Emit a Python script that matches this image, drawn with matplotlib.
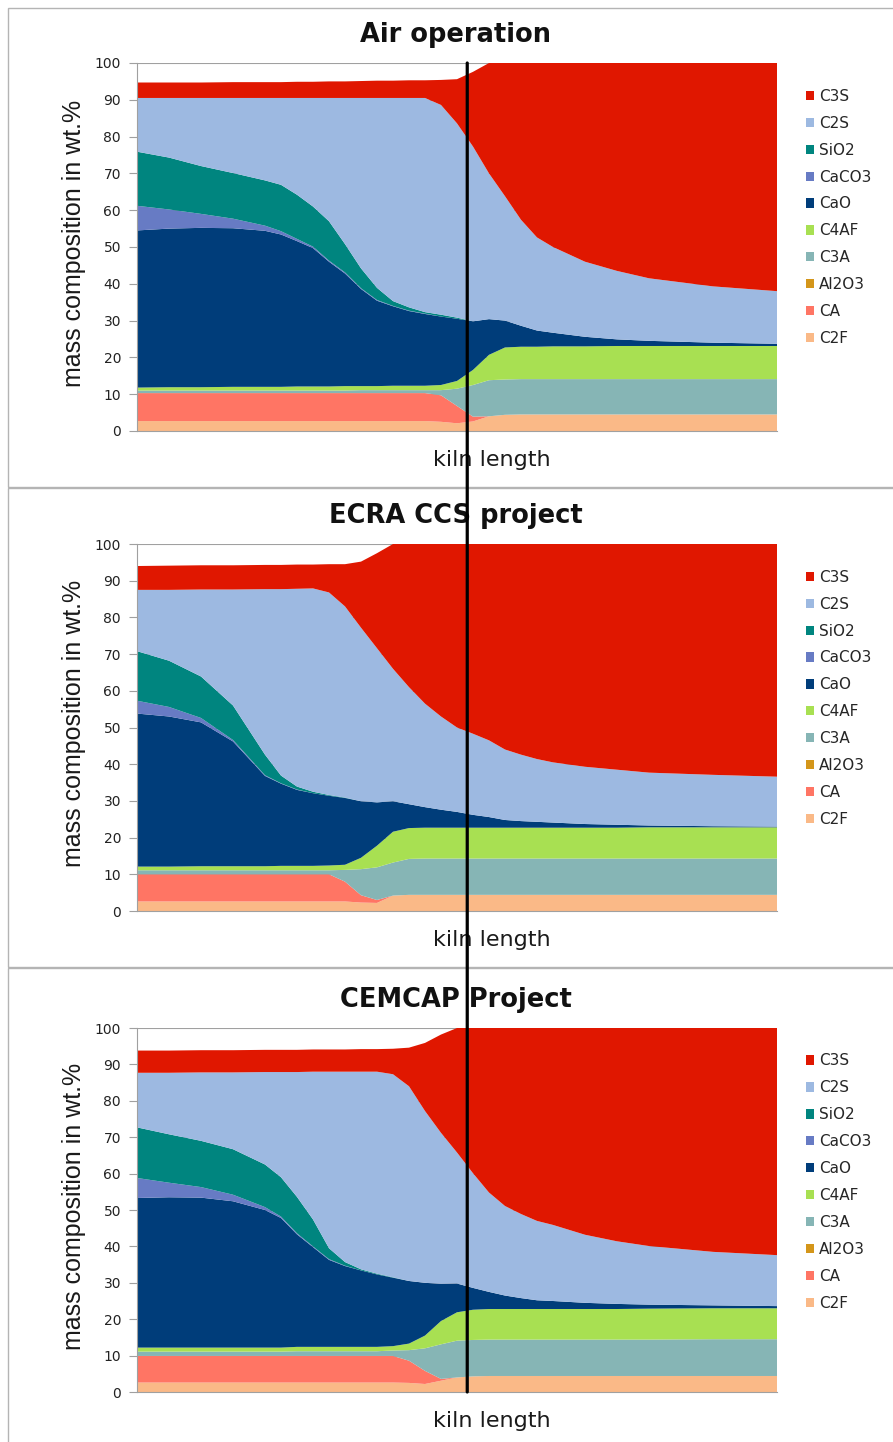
import matplotlib
matplotlib.use('Agg')
import matplotlib.pyplot as plt
from matplotlib.patches import ConnectionPatch, Rectangle

# Position along the kiln (0 = inlet, 1 = outlet)
kiln_pos = [0, 0.05, 0.1, 0.15, 0.2, 0.225, 0.25, 0.275, 0.3, 0.325, 0.35, 0.375, 0.4, 0.425,
            0.45, 0.475, 0.5, 0.525, 0.55, 0.575, 0.6, 0.625, 0.65, 0.7, 0.75, 0.8, 0.9, 1.0]

# Stacking order bottom -> top
phases = ['C2F', 'CA', 'Al2O3', 'C3A', 'C4AF', 'CaO', 'CaCO3', 'SiO2', 'C2S', 'C3S']
phase_colors = ['#FAB987', '#FF7564', '#D4961A', '#86B5B5', '#A8E052',
                '#003D7A', '#677BC4', '#00857F', '#9DB9E1', '#E01700']

no_al2o3 = [0, 0, 0, 0, 0, 0, 0, 0, 0, 0, 0, 0, 0, 0,
            0, 0, 0, 0, 0, 0, 0, 0, 0, 0, 0, 0, 0, 0]

# --- Air operation (wt.%) ---
air_c2f = [2.7, 2.7, 2.7, 2.7, 2.7, 2.7, 2.7, 2.7, 2.7, 2.7, 2.7, 2.7, 2.7, 2.7,
           2.7, 2.5, 2.1, 2.6, 4.0, 4.4, 4.5, 4.5, 4.5, 4.5, 4.5, 4.5, 4.5, 4.5]
air_ca = [7.6, 7.6, 7.6, 7.6, 7.6, 7.6, 7.6, 7.6, 7.6, 7.6, 7.6, 7.6, 7.6, 7.6,
          7.6, 7.2, 4.7, 1.3, 0, 0, 0, 0, 0, 0, 0, 0, 0, 0]
air_c3a = [0.7, 0.7, 0.7, 0.7, 0.7, 0.7, 0.7, 0.7, 0.7, 0.7, 0.8, 0.8, 0.8, 0.8,
           0.8, 1.4, 4.7, 8.6, 9.8, 9.6, 9.6, 9.6, 9.6, 9.6, 9.6, 9.6, 9.6, 9.6]
air_c4af = [0.8, 0.9, 0.9, 1.0, 1.0, 1.0, 1.1, 1.1, 1.1, 1.2, 1.1, 1.1, 1.2, 1.2,
            1.2, 1.4, 2.1, 4.1, 6.9, 8.7, 8.8, 8.8, 8.9, 8.9, 9.0, 9.0, 9.0, 9.0]
air_cao = [42.7, 43.1, 43.3, 43.1, 42.4, 41.4, 39.5, 37.6, 33.9, 30.6, 26.4, 23.2, 21.6, 20.3,
           19.5, 18.6, 16.9, 13.2, 9.7, 7.3, 5.7, 4.4, 3.7, 2.6, 1.8, 1.4, 0.9, 0.6]
air_caco3 = [6.7, 5.2, 3.8, 2.6, 1.4, 0.9, 0.6, 0.4, 0.3, 0.3, 0.2, 0.2, 0.1, 0.1,
             0.1, 0, 0, 0, 0, 0, 0, 0, 0, 0, 0, 0, 0, 0]
air_sio2 = [14.7, 14.1, 13.0, 12.4, 12.3, 12.6, 12.0, 10.9, 10.7, 7.7, 5.4, 3.3, 1.3, 0.9,
            0.4, 0.5, 0.3, 0, 0, 0, 0, 0, 0, 0, 0, 0, 0, 0]
air_c2s = [14.6, 16.2, 18.5, 20.4, 22.4, 23.6, 26.3, 29.5, 33.5, 39.7, 46.3, 51.6, 55.2, 56.9,
           58.2, 57.0, 52.8, 47.5, 39.6, 33.8, 28.8, 25.3, 23.3, 20.4, 18.6, 17.0, 15.3, 14.3]
air_c3s = [4.2, 4.2, 4.2, 4.3, 4.3, 4.3, 4.4, 4.4, 4.5, 4.5, 4.6, 4.7, 4.7, 4.8,
           4.8, 6.8, 12.0, 20.3, 30.0, 36.2, 42.6, 47.4, 50.0, 54.0, 56.5, 58.5, 60.7, 62.0]

# --- ECRA CCS project (wt.%) ---
ecra_c2f = [2.6, 2.6, 2.6, 2.6, 2.6, 2.6, 2.6, 2.6, 2.6, 2.6, 2.3, 2.2, 4.2, 4.4,
            4.4, 4.4, 4.4, 4.4, 4.4, 4.4, 4.4, 4.4, 4.4, 4.4, 4.4, 4.4, 4.4, 4.4]
ecra_ca = [7.4, 7.4, 7.4, 7.4, 7.4, 7.4, 7.4, 7.4, 7.4, 5.4, 2.0, 0.8, 0, 0,
           0, 0, 0, 0, 0, 0, 0, 0, 0, 0, 0, 0, 0, 0]
ecra_c3a = [1.1, 1.1, 1.1, 1.1, 1.1, 1.1, 1.1, 1.1, 1.1, 3.2, 7.1, 8.9, 9.0, 9.8,
            9.9, 9.9, 9.9, 9.9, 9.9, 9.9, 9.9, 9.9, 9.9, 9.9, 9.9, 9.9, 9.9, 9.9]
ecra_c4af = [1.0, 1.0, 1.1, 1.1, 1.1, 1.2, 1.2, 1.2, 1.3, 1.4, 3.1, 5.9, 8.4, 8.4,
             8.4, 8.4, 8.4, 8.4, 8.4, 8.4, 8.4, 8.4, 8.4, 8.4, 8.4, 8.5, 8.5, 8.5]
ecra_cao = [41.7, 40.9, 39.2, 34.0, 24.6, 22.4, 20.7, 19.8, 19.0, 18.2, 15.4, 11.8, 8.3, 6.5,
            5.6, 4.9, 4.3, 3.5, 2.9, 2.1, 1.8, 1.6, 1.4, 1.0, 0.8, 0.5, 0.3, 0.2]
ecra_caco3 = [3.5, 2.6, 1.2, 0.4, 0.2, 0.1, 0.1, 0, 0, 0, 0, 0, 0, 0,
              0, 0, 0, 0, 0, 0, 0, 0, 0, 0, 0, 0, 0, 0]
ecra_sio2 = [13.5, 12.6, 11.3, 9.4, 5.6, 2.1, 0.8, 0.4, 0.2, 0.1, 0, 0, 0, 0,
             0, 0, 0, 0, 0, 0, 0, 0, 0, 0, 0, 0, 0, 0]
ecra_c2s = [16.7, 19.3, 23.7, 31.6, 45.1, 50.8, 53.9, 55.4, 55.2, 52.1, 47.3, 42.0, 36.1, 31.9,
            28.2, 25.4, 23.0, 22.1, 20.9, 19.2, 18.1, 17.1, 16.4, 15.6, 15.0, 14.4, 14.0, 13.6]
ecra_c3s = [6.5, 6.6, 6.6, 6.6, 6.6, 6.6, 6.6, 6.5, 7.7, 11.5, 18.0, 25.9, 34.0, 39.0,
            43.5, 47.0, 50.0, 51.7, 53.5, 56.0, 57.4, 58.6, 59.5, 60.7, 61.5, 62.3, 62.9, 63.4]

# --- CEMCAP Project (wt.%) ---
cemcap_c2f = [2.6, 2.6, 2.6, 2.6, 2.6, 2.6, 2.6, 2.6, 2.6, 2.6, 2.6, 2.6, 2.6, 2.5,
              2.2, 3.1, 4.0, 4.3, 4.4, 4.4, 4.4, 4.4, 4.4, 4.4, 4.4, 4.4, 4.4, 4.4]
cemcap_ca = [7.3, 7.3, 7.3, 7.3, 7.3, 7.3, 7.3, 7.3, 7.3, 7.3, 7.3, 7.3, 7.3, 6.1,
             3.6, 0.5, 0, 0, 0, 0, 0, 0, 0, 0, 0, 0, 0, 0]
cemcap_c3a = [1.2, 1.2, 1.2, 1.2, 1.2, 1.2, 1.3, 1.3, 1.3, 1.3, 1.3, 1.3, 1.5, 2.9,
              6.2, 9.5, 10.1, 10.0, 10.0, 10.0, 10.0, 10.0, 10.0, 10.0, 10.0, 10.0, 10.1, 10.1]
cemcap_c4af = [1.1, 1.1, 1.1, 1.1, 1.1, 1.1, 1.2, 1.2, 1.2, 1.2, 1.2, 1.2, 1.2, 1.8,
               3.5, 6.4, 7.8, 8.3, 8.4, 8.4, 8.4, 8.4, 8.4, 8.4, 8.4, 8.5, 8.5, 8.5]
cemcap_cao = [41.1, 41.3, 41.2, 40.2, 37.8, 35.6, 30.9, 27.4, 23.9, 22.2, 21.0, 19.9, 18.8, 17.2,
              14.5, 10.2, 7.9, 6.0, 4.7, 3.7, 3.0, 2.4, 2.2, 1.7, 1.4, 1.1, 0.8, 0.6]
cemcap_caco3 = [5.5, 4.0, 2.9, 1.8, 0.8, 0.4, 0.3, 0.2, 0.2, 0.1, 0, 0, 0, 0,
                0, 0, 0, 0, 0, 0, 0, 0, 0, 0, 0, 0, 0, 0]
cemcap_sio2 = [13.9, 13.3, 12.7, 12.5, 11.7, 10.8, 10.0, 7.4, 3.0, 1.0, 0.3, 0.2, 0.1, 0,
               0, 0, 0, 0, 0, 0, 0, 0, 0, 0, 0, 0, 0, 0]
cemcap_c2s = [15.0, 16.9, 18.8, 21.1, 25.4, 28.9, 34.3, 40.6, 48.5, 52.3, 54.3, 55.5, 55.8, 53.5,
              47.2, 41.5, 36.0, 31.5, 27.3, 24.6, 23.1, 21.8, 20.9, 18.7, 17.2, 16.1, 14.7, 14.0]
cemcap_c3s = [6.1, 6.1, 6.1, 6.1, 6.1, 6.1, 6.1, 6.1, 6.1, 6.1, 6.2, 6.2, 7.0, 10.6,
              18.7, 27.0, 34.2, 39.9, 45.2, 48.9, 51.1, 53.0, 54.1, 56.8, 58.6, 59.9, 61.5, 62.4]

# kiln position of the vertical reference line
marker_pos = 0.516

panels = [
    ('Air operation',
     [air_c2f, air_ca, no_al2o3, air_c3a, air_c4af, air_cao, air_caco3, air_sio2, air_c2s, air_c3s]),
    ('ECRA CCS project',
     [ecra_c2f, ecra_ca, no_al2o3, ecra_c3a, ecra_c4af, ecra_cao, ecra_caco3, ecra_sio2, ecra_c2s, ecra_c3s]),
    ('CEMCAP Project',
     [cemcap_c2f, cemcap_ca, no_al2o3, cemcap_c3a, cemcap_c4af, cemcap_cao, cemcap_caco3, cemcap_sio2,
      cemcap_c2s, cemcap_c3s]),
]

W, H = 893, 1442
fig = plt.figure(figsize=(W / 100, H / 100), dpi=100)
fig.patch.set_facecolor('white')

# plot boxes in pixels: (left, top, right, bottom)
plot_boxes = [(137, 63, 777, 431), (137, 544, 777, 911), (137, 1028, 777, 1392)]
frame_boxes = [(8, 8, 900, 487), (8, 488, 900, 967), (8, 968, 900, 1450)]

grey = '#A0A0A0'
axes = []
for (title, series), (l, t, r, b), (fl, ft, fr, fb) in zip(panels, plot_boxes, frame_boxes):
    fig.add_artist(Rectangle((fl / W, 1 - fb / H), (fr - fl) / W, (fb - ft) / H,
                             transform=fig.transFigure, fill=False, edgecolor='#B4B4B4', lw=1.0))

    ax = fig.add_axes([l / W, 1 - b / H, (r - l) / W, (b - t) / H])
    polys = ax.stackplot(kiln_pos, series, colors=phase_colors, labels=phases, lw=0)

    ax.set_xlim(0, 1)
    ax.set_ylim(0, 100)
    ax.set_yticks(range(0, 101, 10))
    ax.set_xticks([])
    ax.set_axisbelow(True)
    ax.yaxis.grid(True, color=grey, lw=0.8)
    for side in ('top', 'right'):
        ax.spines[side].set_visible(False)
    for side in ('left', 'bottom'):
        ax.spines[side].set_color(grey)
        ax.spines[side].set_linewidth(0.8)
    ax.tick_params(axis='y', length=5.5, width=0.8, color=grey, pad=6,
                   labelsize=10, labelcolor='#222222')

    ax.annotate(title, xy=(0.498, 1), xycoords='axes fraction', xytext=(0, 20),
                textcoords='offset points', ha='center', va='center',
                fontsize=18.5, fontweight='bold', color='#111111')
    ax.annotate('kiln length', xy=(0.555, 0), xycoords='axes fraction', xytext=(0, -21),
                textcoords='offset points', ha='center', va='center',
                fontsize=16, color='#1a1a1a')
    ax.text(-0.098, 0.51, 'mass composition in wt.%', transform=ax.transAxes,
            rotation=90, ha='center', va='center', fontsize=18,
            family='Liberation Sans', color='#1a1a1a')

    ax.legend(polys[::-1], phases[::-1], loc='upper left', bbox_to_anchor=(1.045, 0.93),
              frameon=False, fontsize=11, handlelength=0.55, handleheight=0.55,
              handletextpad=0.3, labelspacing=0.78, borderaxespad=0, borderpad=0,
              labelcolor='#262626')
    axes.append(ax)

# vertical reference line running through all three panels
fig.add_artist(ConnectionPatch(xyA=(marker_pos, 100), coordsA=axes[0].transData,
                               xyB=(marker_pos, 0), coordsB=axes[2].transData,
                               color='black', lw=2.3, zorder=10))

fig.savefig('out.png', dpi=100, facecolor='white')
